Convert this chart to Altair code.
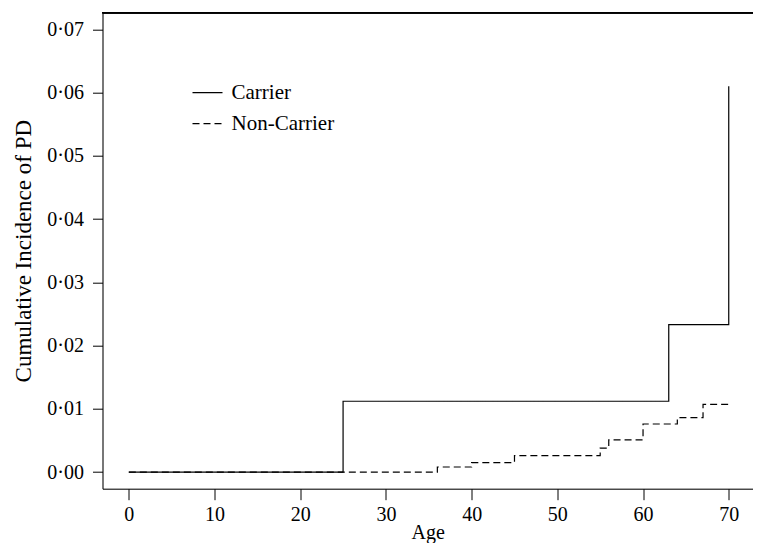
import altair as alt
import pandas as pd

# Data (step functions, step-after)
carrier_age = [0, 25, 63, 70]
carrier_ci = [0.0, 0.0112, 0.0233, 0.061]
noncarrier_age = [0, 36, 40, 45, 55, 56, 60, 64, 67, 70]
noncarrier_ci = [0.0, 0.0008, 0.0015, 0.0026, 0.0038, 0.0051, 0.0076, 0.0086, 0.0107, 0.0107]
groups = ["Carrier", "Non-Carrier"]
x_ticks = [0, 10, 20, 30, 40, 50, 60, 70]
y_ticks = [0.0, 0.01, 0.02, 0.03, 0.04, 0.05, 0.06, 0.07]

rows = []
for a, v in zip(carrier_age, carrier_ci):
    rows.append({"Age": a, "CI": v, "Group": groups[0]})
for a, v in zip(noncarrier_age, noncarrier_ci):
    rows.append({"Age": a, "CI": v, "Group": groups[1]})
df = pd.DataFrame(rows)

W = 650.5
H = 476
FONT = "Liberation Serif"
FS = 20

x_scale = alt.Scale(domain=[-3.07, 72.83], nice=False, zero=False)
y_scale = alt.Scale(domain=[-0.00263, 0.07263], nice=False, zero=False)

lines = alt.Chart(df).mark_line(interpolate="step-after", color="black", strokeWidth=1.2).encode(
    x=alt.X("Age:Q", scale=x_scale,
            axis=alt.Axis(values=x_ticks, title="Age", grid=False, domainColor="black",
                          tickColor="black", tickSize=11, labelPadding=5,
                          labelFont=FONT, labelFontSize=FS, labelColor="black",
                          titleFont=FONT, titleFontSize=FS, titleFontWeight="normal",
                          titleColor="black", titleBaseline="alphabetic", titleY=50)),
    y=alt.Y("CI:Q", scale=y_scale,
            axis=alt.Axis(values=y_ticks, title="Cumulative Incidence of PD", grid=False,
                          domainColor="black", tickColor="black", tickSize=10, labelPadding=9,
                          labelExpr="replace(format(datum.value, '.2f'), '.', '·')",
                          labelFont=FONT, labelFontSize=FS, labelColor="black",
                          titleFont=FONT, titleFontSize=23, titleFontWeight="normal",
                          titleColor="black", titlePadding=11)),
    strokeDash=alt.StrokeDash("Group:N",
                              scale=alt.Scale(domain=groups, range=[[1, 0], [7, 4]]),
                              legend=alt.Legend(title=None, orient="none", legendX=89, legendY=64,
                                                symbolType="stroke", symbolSize=900,
                                                symbolStrokeColor="black", symbolStrokeWidth=1.2,
                                                labelFont=FONT, labelFontSize=21, labelColor="black",
                                                labelOffset=8, rowPadding=5, padding=0)),
    detail="Group:N",
)

top_border = alt.Chart(df).mark_rule(color="black", strokeWidth=1).encode(
    x=alt.value(0), x2=alt.value(W), y=alt.value(0)
)

chart = alt.layer(lines, top_border).properties(
    width=W, height=H,
    autosize=alt.AutoSizeParams(type="none"),
    padding={"left": 94.5, "top": 4.7, "right": 0, "bottom": 54.3},
).configure_view(stroke=None).configure(background="white")

chart.save("out.html", embed_options={"renderer": "svg", "actions": False})
